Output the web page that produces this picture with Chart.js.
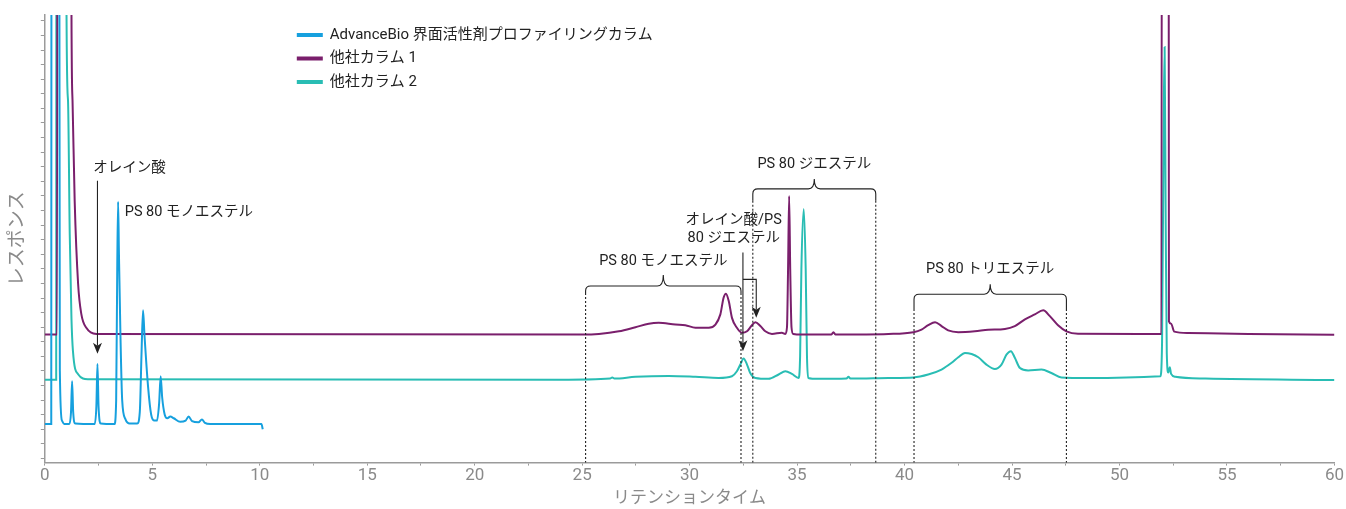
<!DOCTYPE html>
<html lang="ja">
<head>
<meta charset="utf-8">
<title>界面活性剤プロファイリング</title>
<script src="https://cdn.jsdelivr.net/npm/chart.js@4.4.1/dist/chart.umd.min.js"></script>
<style>
  html, body { margin: 0; padding: 0; background: #fff; }
</style>
</head>
<body>
<canvas id="cromatograma" width="1346" height="509"></canvas>
<script>
// series names and colours
const seriesNames = ['AdvanceBio 界面活性剤プロファイリングカラム', '他社カラム 1', '他社カラム 2'];
const seriesColors = ['#16a0de', '#7a1f6c', '#29bdb4'];

// [retention time (min), response]; 40 = off scale
const traceAdvanceBio = [
  [0, 1.18], [0.30, 1.18], [0.32, 40], [0.64, 40], [0.70, 3.0], [0.80, 1.3], [0.90, 1.18],
  [1.14, 1.18], [1.22, 1.6], [1.27, 2.65], [1.32, 1.6], [1.42, 1.2],
  [2.32, 1.18], [2.40, 1.8], [2.45, 3.24], [2.50, 1.8], [2.60, 1.2],
  [3.24, 1.18], [3.32, 2.0], [3.37, 6.5], [3.41, 8.8], [3.45, 7.0], [3.52, 4.2], [3.60, 2.0], [3.75, 1.35], [3.95, 1.2],
  [4.30, 1.2], [4.42, 1.6], [4.50, 3.6], [4.57, 5.08], [4.64, 4.2], [4.80, 2.5], [4.95, 1.5], [5.10, 1.3],
  [5.22, 1.3], [5.32, 1.9], [5.39, 2.82], [5.46, 2.1], [5.58, 1.5], [5.70, 1.38],
  [5.84, 1.44], [6.00, 1.38], [6.30, 1.26], [6.55, 1.3], [6.69, 1.44], [6.85, 1.28],
  [7.15, 1.24], [7.31, 1.34], [7.45, 1.22], [7.70, 1.18], [10.08, 1.18], [10.14, 1.0]
];

const traceOther1 = [
  [0, 4.25], [0.57, 4.25], [0.60, 40], [1.20, 40], [1.24, 15.5], [1.29, 12.27], [1.39, 8.83],
  [1.55, 5.98], [1.70, 4.95], [1.94, 4.47], [2.40, 4.27], [25.0, 4.25],
  [25.78, 4.27], [26.71, 4.36], [27.48, 4.5], [28.10, 4.62], [28.56, 4.65], [29.34, 4.59],
  [29.80, 4.57], [30.27, 4.48], [30.89, 4.48], [31.20, 4.59], [31.43, 4.94], [31.58, 5.51],
  [31.69, 5.65], [31.82, 5.4], [31.97, 4.82], [32.20, 4.48], [32.43, 4.31], [32.67, 4.36],
  [32.87, 4.54], [33.06, 4.67], [33.29, 4.54], [33.52, 4.36], [33.83, 4.27], [34.29, 4.31],
  [34.45, 4.27], [34.53, 4.5], [34.58, 6.5], [34.63, 9.0], [34.68, 6.5], [34.74, 4.5],
  [34.82, 4.27], [35.22, 4.25], [36.60, 4.25], [36.69, 4.33], [36.78, 4.25],
  [39.25, 4.27], [40.41, 4.33], [40.79, 4.42], [41.10, 4.57], [41.42, 4.67], [41.72, 4.54],
  [42.03, 4.39], [42.50, 4.33], [43.27, 4.36], [43.89, 4.41], [44.67, 4.44], [45.13, 4.54],
  [45.60, 4.77], [46.06, 4.94], [46.45, 5.08], [46.76, 4.88], [47.14, 4.57], [47.53, 4.36],
  [48.07, 4.28], [51.95, 4.27], [51.99, 40], [52.27, 40], [52.30, 4.7], [52.40, 4.62],
  [52.55, 4.35], [53.20, 4.3], [56.0, 4.27], [60.0, 4.24]
];

const traceOther2 = [
  [0, 2.7], [0.53, 2.7], [0.55, 40], [0.98, 40], [1.01, 15.3], [1.08, 12.27], [1.16, 7.7],
  [1.24, 4.81], [1.31, 3.68], [1.55, 2.89], [2.0, 2.72], [24.0, 2.7],
  [26.3, 2.74], [26.4, 2.78], [26.5, 2.74], [27.48, 2.8], [29.03, 2.83], [30.27, 2.8],
  [31.35, 2.76], [31.97, 2.82], [32.20, 2.99], [32.36, 3.22], [32.51, 3.43], [32.67, 3.22],
  [32.82, 2.93], [33.06, 2.76], [33.67, 2.73], [34.14, 2.88], [34.45, 2.99], [34.76, 2.9],
  [35.07, 2.76], [35.14, 3.5], [35.20, 6.5], [35.31, 8.55], [35.40, 6.5], [35.46, 3.5],
  [35.52, 2.76], [35.98, 2.73], [37.30, 2.74], [37.39, 2.8], [37.48, 2.74],
  [39.25, 2.76], [40.41, 2.78], [41.10, 2.88], [41.72, 3.05], [42.19, 3.28], [42.50, 3.47],
  [42.81, 3.62], [43.12, 3.58], [43.43, 3.47], [43.81, 3.22], [44.20, 3.07], [44.51, 3.22],
  [44.74, 3.56], [44.95, 3.68], [45.13, 3.45], [45.37, 3.1], [45.75, 3.02], [46.37, 3.05],
  [46.83, 2.93], [47.30, 2.78], [48.50, 2.76], [51.90, 2.82], [51.98, 4.0], [52.06, 12.0],
  [52.10, 14.1], [52.15, 8.0], [52.20, 3.6], [52.27, 2.95], [52.34, 3.13], [52.40, 2.9],
  [52.60, 2.8], [54.0, 2.74], [60.0, 2.69]
];

// x axis tick labels (minor ticks every 2.5 min are unlabelled)
const xLabels = [0, 5, 10, 15, 20, 25, 30, 35, 40, 45, 50, 55, 60];

// annotations, in data units
const noteTexts = [
  { text: 'オレイン酸', x: 2.25, y: 9.93, align: 'left' },
  { text: 'PS 80 モノエステル', x: 3.72, y: 8.42, align: 'left' },
  { text: 'オレイン酸/PS', x: 32.05, y: 8.15, align: 'center' },
  { text: '80 ジエステル', x: 32.05, y: 7.55, align: 'center' }
];
const brackets = [
  { text: 'PS 80 モノエステル', from: 25.16, to: 32.39, line: 5.91, tip: 6.29, end: 5.67, textY: 6.77 },
  { text: 'PS 80 ジエステル', from: 32.94, to: 38.66, line: 9.24, tip: 9.58, end: 8.83, textY: 10.07 },
  { text: 'PS 80 トリエステル', from: 40.44, to: 47.53, line: 5.63, tip: 5.97, end: 5.12, textY: 6.49 }
];
const arrows = [
  { x: 2.45, from: 9.52, to: 3.59 },
  { x: 32.48, from: 7.06, to: 3.68 }
];
const bentArrows = [
  { x: 32.48, y: 6.14, x2: 33.1, to: 4.82 }
];

const fontFam = 'Roboto, "Noto Sans CJK JP", sans-serif';
const axisGrey = '#9b9b9b';
const labelGrey = '#8a8a8a';

function arrowHead(ctx, px, py) {
  ctx.beginPath();
  ctx.moveTo(px, py);
  ctx.lineTo(px - 4.5, py - 11);
  ctx.lineTo(px, py - 8);
  ctx.lineTo(px + 4.5, py - 11);
  ctx.closePath();
  ctx.fill();
}

const notesPlugin = {
  id: 'notes',
  afterDatasetsDraw(chart) {
    const { ctx, scales: { x, y } } = chart;
    const yBottom = chart.chartArea.bottom;
    ctx.save();
    ctx.font = '14.5px ' + fontFam;
    ctx.textBaseline = 'middle';
    ctx.fillStyle = '#222';
    ctx.strokeStyle = '#222';
    ctx.lineWidth = 1.1;

    noteTexts.forEach(n => {
      ctx.textAlign = n.align;
      ctx.fillText(n.text, x.getPixelForValue(n.x), y.getPixelForValue(n.y));
    });

    brackets.forEach(b => {
      const x1 = x.getPixelForValue(b.from);
      const x2 = x.getPixelForValue(b.to);
      const cx = (x1 + x2) / 2;
      const yl = y.getPixelForValue(b.line);
      const yt = y.getPixelForValue(b.tip);
      const ye = y.getPixelForValue(b.end);
      const r = 5;
      ctx.setLineDash([]);
      ctx.beginPath();
      ctx.moveTo(x1, ye);
      ctx.lineTo(x1, yl + r);
      ctx.quadraticCurveTo(x1, yl, x1 + r, yl);
      ctx.lineTo(cx - 6, yl);
      ctx.quadraticCurveTo(cx, yl, cx, yt);
      ctx.quadraticCurveTo(cx, yl, cx + 6, yl);
      ctx.lineTo(x2 - r, yl);
      ctx.quadraticCurveTo(x2, yl, x2, yl + r);
      ctx.lineTo(x2, ye);
      ctx.stroke();
      ctx.setLineDash([2, 2]);
      ctx.beginPath();
      ctx.moveTo(x1, ye);
      ctx.lineTo(x1, yBottom);
      ctx.moveTo(x2, ye);
      ctx.lineTo(x2, yBottom);
      ctx.stroke();
      ctx.setLineDash([]);
      ctx.textAlign = 'center';
      ctx.fillText(b.text, cx, y.getPixelForValue(b.textY));
    });

    ctx.setLineDash([]);
    arrows.forEach(a => {
      const px = x.getPixelForValue(a.x);
      const tipY = y.getPixelForValue(a.to);
      ctx.beginPath();
      ctx.moveTo(px, y.getPixelForValue(a.from));
      ctx.lineTo(px, tipY - 8);
      ctx.stroke();
      arrowHead(ctx, px, tipY);
    });
    bentArrows.forEach(a => {
      const px = x.getPixelForValue(a.x);
      const px2 = x.getPixelForValue(a.x2);
      const py = y.getPixelForValue(a.y);
      const tipY = y.getPixelForValue(a.to);
      ctx.beginPath();
      ctx.moveTo(px, py);
      ctx.lineTo(px2, py);
      ctx.lineTo(px2, tipY - 8);
      ctx.stroke();
      arrowHead(ctx, px2, tipY);
    });
    ctx.restore();
  }
};

const legendPlugin = {
  id: 'legendBox',
  afterDraw(chart) {
    const { ctx, chartArea } = chart;
    const x0 = chartArea.left + 252;
    const y0 = chartArea.top + 20;
    ctx.save();
    ctx.font = '15px ' + fontFam;
    ctx.textBaseline = 'middle';
    ctx.textAlign = 'left';
    chart.data.datasets.forEach((ds, i) => {
      const yy = y0 + i * 23.5;
      ctx.fillStyle = ds.borderColor;
      ctx.fillRect(x0, yy - 2, 26, 4);
      ctx.fillStyle = '#222';
      ctx.fillText(ds.label, x0 + 33, yy);
    });
    ctx.restore();
  }
};

const traces = [traceAdvanceBio, traceOther1, traceOther2];
const yTickValues = Array.from({ length: 31 }, (_, i) => i * 0.5);

const ctx = document.getElementById('cromatograma').getContext('2d');

const grafico = new Chart(ctx, {
  type: 'line',
  data: {
    datasets: traces.map((tr, i) => ({
      label: seriesNames[i],
      data: tr.map(p => ({ x: p[0], y: p[1] })),
      borderColor: seriesColors[i],
      backgroundColor: seriesColors[i],
      borderWidth: 2,
      pointRadius: 0,
      cubicInterpolationMode: 'monotone',
      fill: false
    }))
  },
  options: {
    responsive: false,
    animation: false,
    devicePixelRatio: 1,
    layout: { padding: { left: 3, top: 15, right: 0, bottom: 0 } },
    plugins: {
      legend: { display: false },
      tooltip: { enabled: false }
    },
    scales: {
      x: {
        type: 'linear',
        min: 0,
        max: 60,
        ticks: {
          stepSize: 2.5,
          autoSkip: false,
          maxRotation: 0,
          color: labelGrey,
          padding: 2,
          font: { family: fontFam, size: 17, lineHeight: 1 },
          callback: (v) => xLabels.includes(v) ? String(v) : ''
        },
        grid: { drawOnChartArea: false, tickLength: 3, color: axisGrey },
        border: { color: axisGrey, width: 1.5 },
        title: {
          display: true,
          text: 'リテンションタイム',
          color: labelGrey,
          font: { family: fontFam, size: 17 },
          padding: { top: 2, bottom: 0 }
        }
      },
      y: {
        type: 'linear',
        min: -0.14,
        max: 15.2,
        afterBuildTicks: (axis) => { axis.ticks = yTickValues.map(v => ({ value: v })); },
        ticks: { display: false },
        grid: { drawOnChartArea: false, tickLength: 4, color: axisGrey },
        border: { color: axisGrey, width: 1.5 },
        title: {
          display: true,
          text: 'レスポンス',
          color: labelGrey,
          font: { family: fontFam, size: 19 },
          padding: { top: 4, bottom: 11 }
        }
      }
    }
  },
  plugins: [notesPlugin, legendPlugin]
});
</script>
</body>
</html>
